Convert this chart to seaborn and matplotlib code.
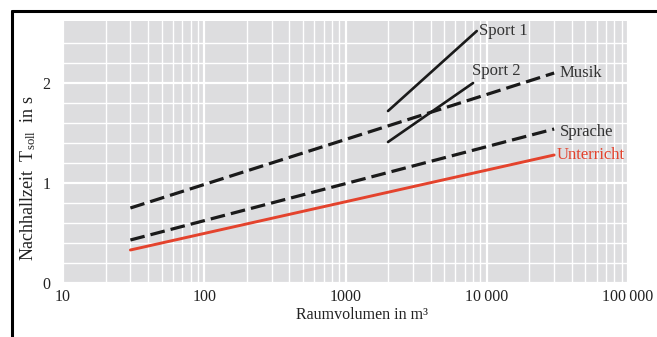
import numpy as np
import pandas as pd
import matplotlib
matplotlib.use("Agg")
import matplotlib.pyplot as plt
from matplotlib.lines import Line2D
from matplotlib.ticker import FixedLocator, NullFormatter
import seaborn as sns

# ---- data ----
unterricht_x = [30, 30000]
unterricht_y = [0.33, 1.28]
sprache_x = [30, 30000]
sprache_y = [0.43, 1.54]
musik_x = [30, 30000]
musik_y = [0.75, 2.10]
sport1_x = [2000, 8500]
sport1_y = [1.72, 2.52]
sport2_x = [2000, 8000]
sport2_y = [1.41, 2.00]

x_ticks = [10, 100, 1000, 10000, 100000]
x_ticklabels = ["10", "100", "1000", "10\u2009000", "100\u2009000"]
y_ticks = [0, 1, 2]
y_ticklabels = ["0", "1", "2"]

sns.set_theme(style="whitegrid")
plt.rcParams["font.family"] = ["Liberation Serif", "DejaVu Serif"]
plt.rcParams["mathtext.fontset"] = "custom"
plt.rcParams["mathtext.rm"] = "Liberation Serif"
plt.rcParams["mathtext.it"] = "Liberation Serif:italic"

fig = plt.figure(figsize=(6.57, 3.37), dpi=100)
ax = fig.add_axes([63 / 657, 1 - 283 / 337, (628 - 63) / 657, (283 - 21) / 337])
ax.set_facecolor("#dddddf")

def df_of(xs, ys):
    return pd.DataFrame({"x": xs, "y": ys})

dash_kw = dict(color="#1a1a1a", linewidth=2.3, dashes=(4.6, 1.9))
sns.lineplot(data=df_of(musik_x, musik_y), x="x", y="y", ax=ax, **dash_kw)
sns.lineplot(data=df_of(sprache_x, sprache_y), x="x", y="y", ax=ax, **dash_kw)
sns.lineplot(data=df_of(sport1_x, sport1_y), x="x", y="y", ax=ax, color="#1a1a1a", linewidth=1.9)
sns.lineplot(data=df_of(sport2_x, sport2_y), x="x", y="y", ax=ax, color="#1a1a1a", linewidth=1.9)
sns.lineplot(data=df_of(unterricht_x, unterricht_y), x="x", y="y", ax=ax, color="#e4432d", linewidth=2.1)

ax.set_xscale("log")
ax.set_xlim(10, 100000)
ax.set_ylim(0, 2.62)

ax.xaxis.set_major_locator(FixedLocator(x_ticks))
ax.set_xticklabels(x_ticklabels)
minors = [m * 10 ** d for d in range(1, 5) for m in range(2, 10)]
ax.xaxis.set_minor_locator(FixedLocator(minors))
ax.xaxis.set_minor_formatter(NullFormatter())
ax.yaxis.set_major_locator(FixedLocator(y_ticks))
ax.set_yticklabels(y_ticklabels)
ax.yaxis.set_minor_locator(FixedLocator([0.2, 0.4, 0.6, 0.8, 1.2, 1.4, 1.6, 1.8, 2.2, 2.4]))

ax.grid(which="major", color="white", linewidth=1.6)
ax.grid(which="minor", color="white", linewidth=1.0)
ax.tick_params(which="both", length=0)
ax.tick_params(axis="x", labelsize=11.5, pad=4, colors="#222222")
ax.tick_params(axis="y", labelsize=11.5, pad=9, colors="#222222")
for s in ax.spines.values():
    s.set_visible(False)

ax.set_xlabel("")
ax.set_ylabel("")

lab_col = "#333333"
fs = 12
ax.text(8800, 2.52, "Sport 1", fontsize=fs, color=lab_col, ha="left", va="center")
ax.text(7900, 2.12, "Sport 2", fontsize=fs, color=lab_col, ha="left", va="center")
ax.text(33000, 2.10, "Musik", fontsize=fs, color=lab_col, ha="left", va="center")
ax.text(33000, 1.51, "Sprache", fontsize=fs, color=lab_col, ha="left", va="center")
ax.text(31000, 1.28, "Unterricht", fontsize=fs, color="#e4432d", ha="left", va="center")

fig.text(362 / 657, 1 - 315 / 337, "Raumvolumen in m\u00b3", fontsize=11.5, color="#222222",
         ha="center", va="center")
fig.text(28 / 657, 1 - 178 / 337, r"Nachhallzeit  T$_{\mathrm{soll}}$  in s", fontsize=13,
         color="#222222", ha="center", va="center", rotation=90)

# frame lines
fig.add_artist(Line2D([12 / 657, 1.0], [1 - 11 / 337, 1 - 11 / 337], color="black", linewidth=2.2))
fig.add_artist(Line2D([12 / 657, 12 / 657], [0, 1 - 11 / 337], color="black", linewidth=2.2))

fig.savefig("out.png", dpi=100)
